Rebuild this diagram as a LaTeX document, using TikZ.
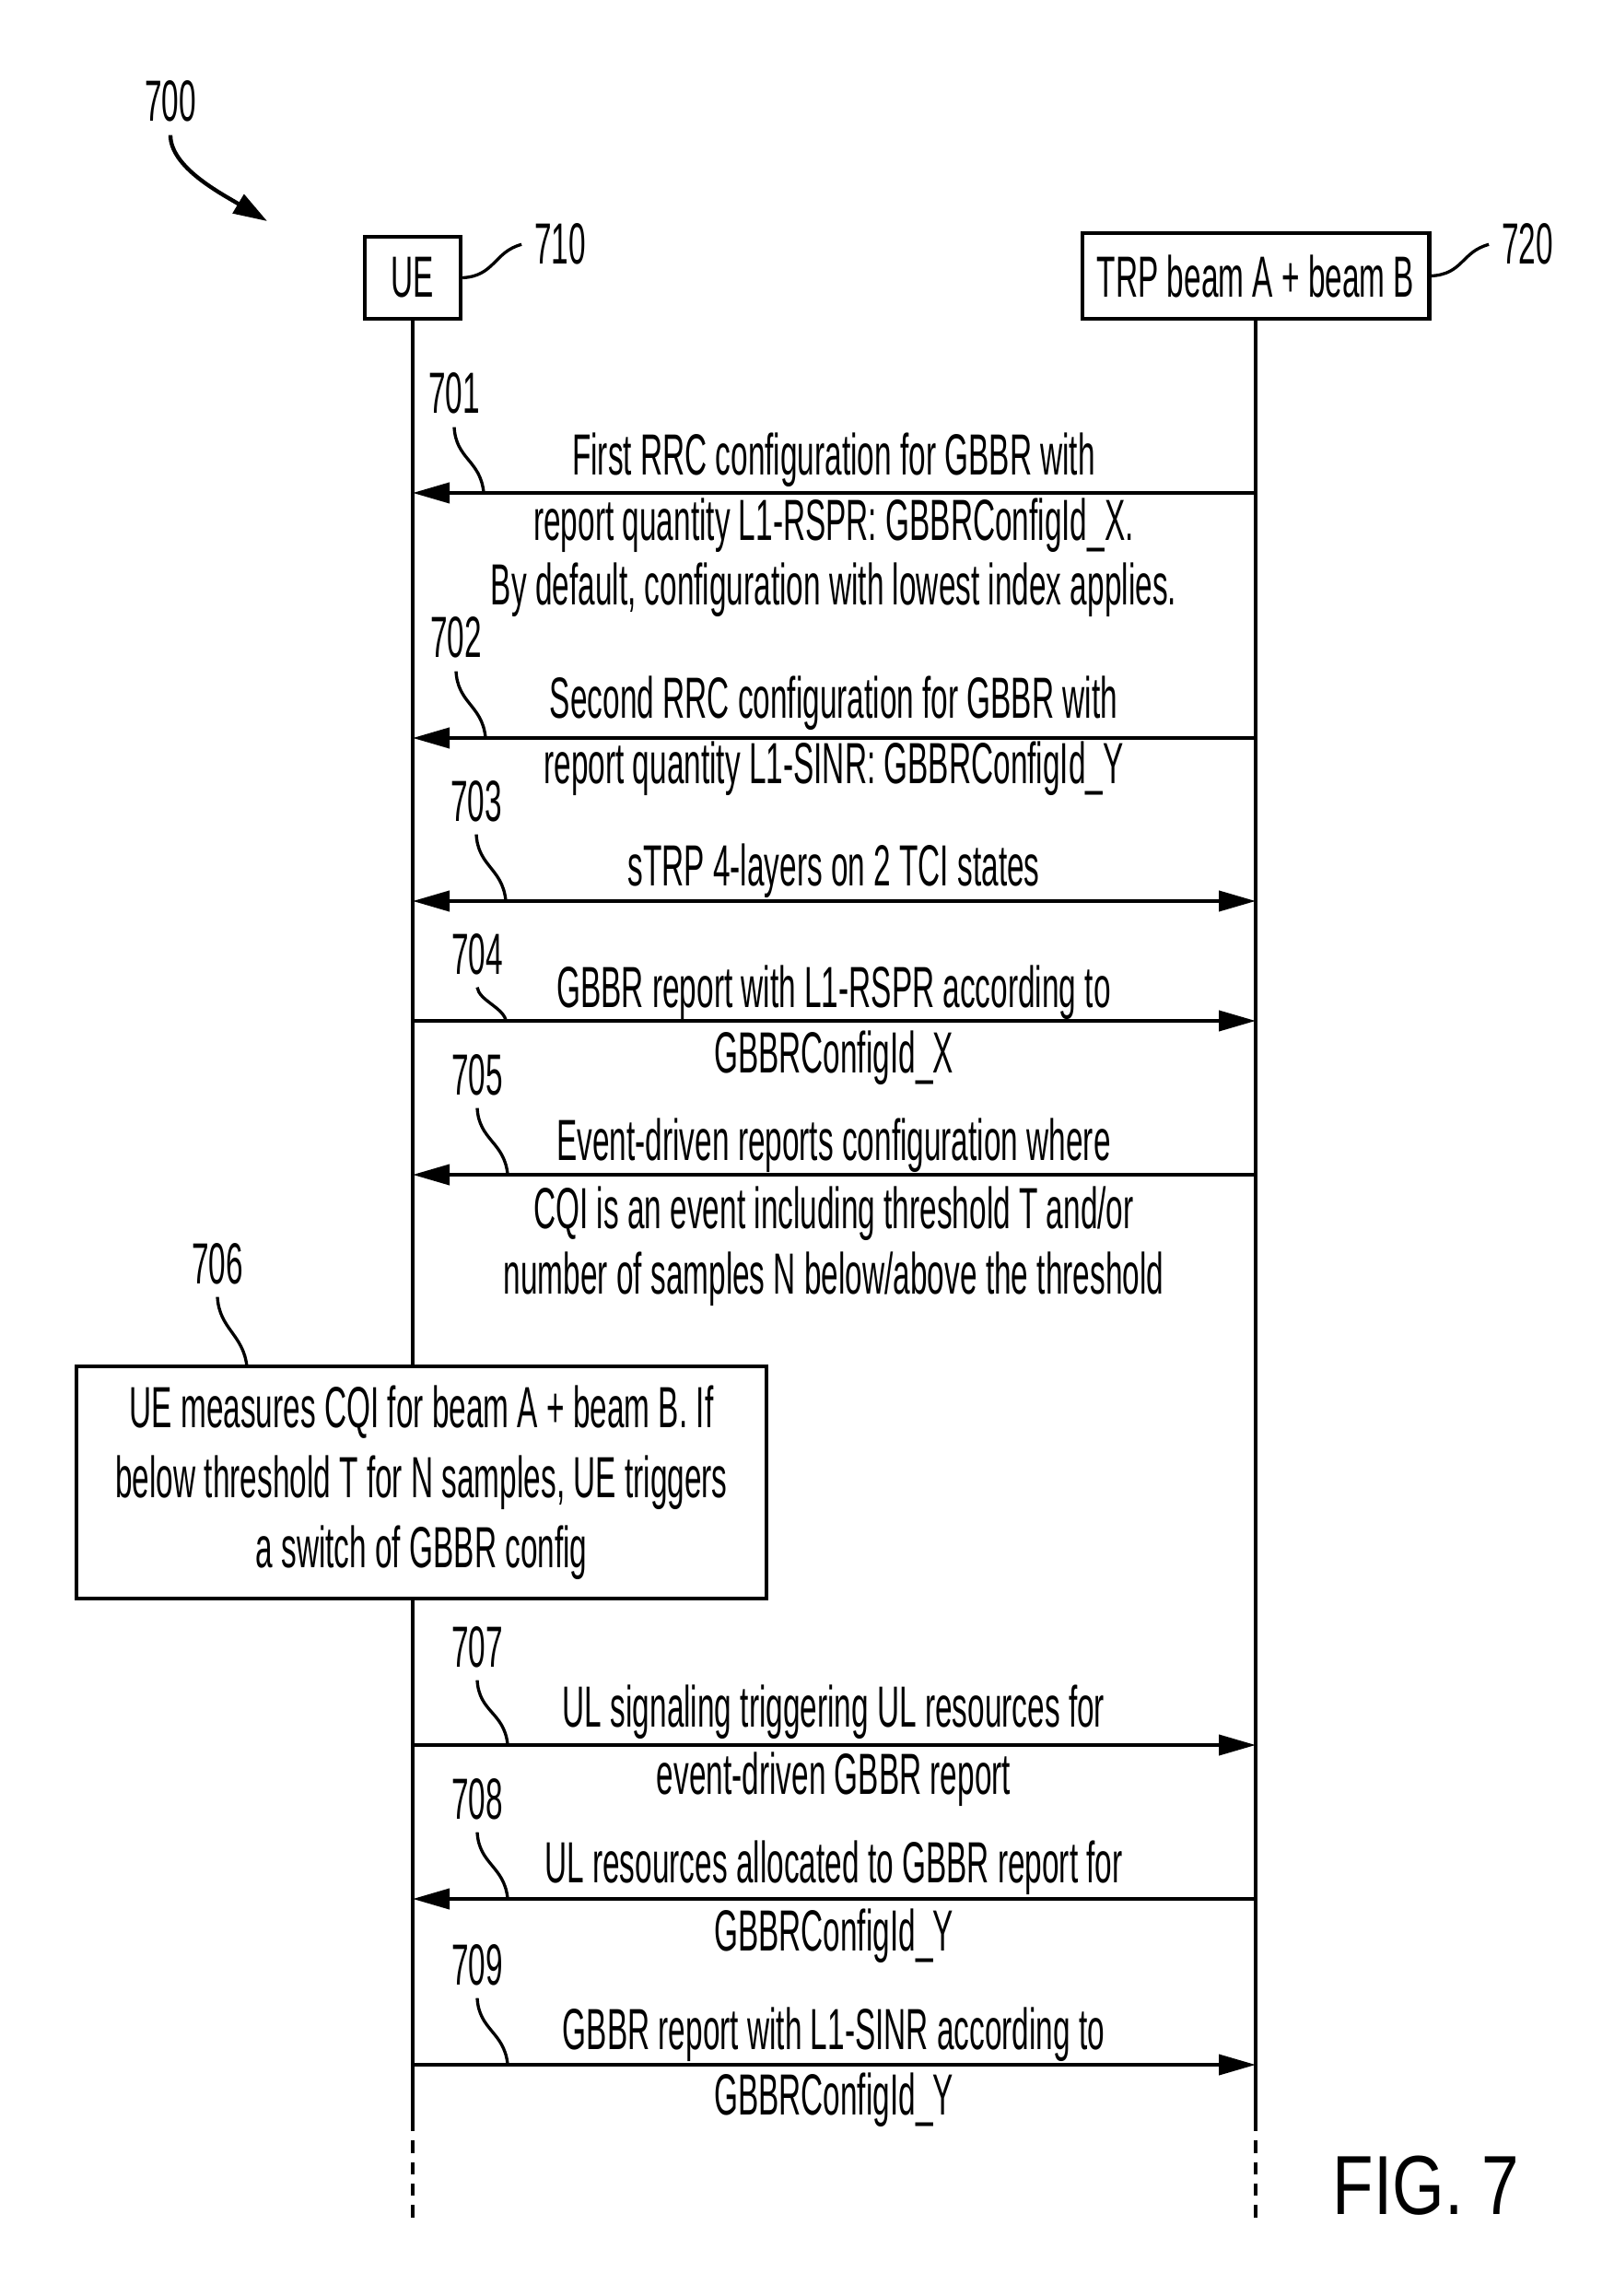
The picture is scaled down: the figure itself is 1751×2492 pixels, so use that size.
\documentclass[tikz,border=0pt]{standalone}
\usepackage{fontspec}
\setmainfont{Liberation Sans}[FakeStretch=0.53]
\newfontfamily\figfont{Liberation Sans}[FakeStretch=0.8]
\usetikzlibrary{arrows.meta}

\begin{document}
\begin{tikzpicture}[x=0.3pt,y=-0.3pt]
\tikzset{every node/.style={font=\fontsize{18.9pt}{21.3pt}\selectfont}}
\tikzset{actor/.style={draw,line width=1.3pt,inner sep=0pt}}
\tikzset{life/.style={line width=1.4pt}}
\tikzset{msg/.style={line width=1.2pt,-{Triangle[length=12pt,width=6.6pt]}}}
\tikzset{msgboth/.style={line width=1.2pt,{Triangle[length=12pt,width=6.6pt]}-{Triangle[length=12pt,width=6.6pt]}}}
\tikzset{lbl/.style={anchor=base,inner sep=0pt}}
\tikzset{num/.style={anchor=base,inner sep=4pt}}
\tikzset{lead/.style={line width=1pt}}

\useasboundingbox (0,0) rectangle (1751,2492);

\node[actor,minimum width=31.2pt,minimum height=26.7pt] (ue) at (448,301.5) {UE};
\node[actor,minimum width=113pt,minimum height=27.9pt] (trp) at (1363,299.5) {TRP beam A + beam B};
\node[num] (n700) at (185,132) {700};
\node[num] (n710) at (608,287) {710};
\node[num] (n720) at (1658,287) {720};

\coordinate (t700) at (290,240);
\draw[line width=1.3pt,-{Triangle[length=11pt,width=7pt]}] (n700.south) .. controls +(0,35) and +(-50,-30) .. (t700);
\draw[lead] (ue.east) .. controls +(35,-2) and +(-30,8) .. (n710.west);
\draw[lead] (trp.east) .. controls +(35,-2) and +(-30,8) .. (n720.west);

\coordinate (ueend) at (448,2300);
\coordinate (trpend) at (1363,2300);
\coordinate (uetail) at (448,2408);
\coordinate (trptail) at (1363,2408);
\draw[life] (ue.south) -- (ueend);
\draw[life] (trp.south) -- (trpend);
\draw[life,dash pattern=on 4pt off 3pt] (ueend) -- (uetail);
\draw[life,dash pattern=on 4pt off 3pt] (trpend) -- (trptail);

\foreach \n/\y in {1/535,2/801,3/978,4/1108,5/1275,7/1894,8/2061,9/2241}{
  \coordinate (ue\n) at (448,\y);
  \coordinate (trp\n) at (1363,\y);
}

\draw[msg] (trp1) -- (ue1);
\draw[msg] (trp2) -- (ue2);
\draw[msgboth] (ue3) -- (trp3);
\draw[msg] (ue4) -- (trp4);
\draw[msg] (trp5) -- (ue5);
\draw[msg] (ue7) -- (trp7);
\draw[msg] (trp8) -- (ue8);
\draw[msg] (ue9) -- (trp9);

\node[lbl] (m1a) at (905,516) {First RRC configuration for GBBR with};
\node[lbl] (m1b) at (905,587) {report quantity L1-RSPR: GBBRConfigId\_X.};
\node[lbl] (m1c) at (905,657) {By default, configuration with lowest index applies.};
\node[lbl] (m2a) at (905,780) {Second RRC configuration for GBBR with};
\node[lbl] (m2b) at (905,851) {report quantity L1-SINR: GBBRConfigId\_Y};
\node[lbl] (m3a) at (905,961) {sTRP 4-layers on 2 TCI states};
\node[lbl] (m4a) at (905,1093) {GBBR report with L1-RSPR according to};
\node[lbl] (m4b) at (905,1164) {GBBRConfigId\_X};
\node[lbl] (m5a) at (905,1259) {Event-driven reports configuration where};
\node[lbl] (m5b) at (905,1333) {CQI is an event including threshold T and/or};
\node[lbl] (m5c) at (905,1404) {number of samples N below/above the threshold};
\node[lbl] (m7a) at (905,1874) {UL signaling triggering UL resources for};
\node[lbl] (m7b) at (905,1947) {event-driven GBBR report};
\node[lbl] (m8a) at (905,2043) {UL resources allocated to GBBR report for};
\node[lbl] (m8b) at (905,2117) {GBBRConfigId\_Y};
\node[lbl] (m9a) at (905,2224) {GBBR report with L1-SINR according to};
\node[lbl] (m9b) at (905,2295) {GBBRConfigId\_Y};

\node[actor,fill=white,minimum width=224.7pt,minimum height=75.6pt,align=center,
  font=\fontsize{18.9pt}{22.8pt}\selectfont] (check) at (457.5,1609)
  {UE measures CQI for beam A + beam B. If\\below threshold T for N samples, UE triggers\\a switch of GBBR config};

\foreach \n/\x/\y/\tx/\ty/\c in {701/493/449/525/534/35,702/495/714/527/800/35,703/517/891/549/977/35,
  704/518/1057/549/1107/14,705/518/1188/551/1274/35,707/518/1809/551/1893/35,
  708/518/1974/551/2060/35,709/518/2154/551/2240/35,706/236/1393/268/1483/35}{
  \node[num] (n\n) at (\x,\y) {\n};
  \coordinate (t\n) at (\tx,\ty);
  \draw[lead] (n\n.south) .. controls +(2,\c) and +(-4,-\c) .. (t\n);
}

\node[anchor=base,font=\figfont\fontsize{27.3pt}{30pt}\selectfont] (fig) at (1548,2403) {FIG. 7};
\end{tikzpicture}
\end{document}
